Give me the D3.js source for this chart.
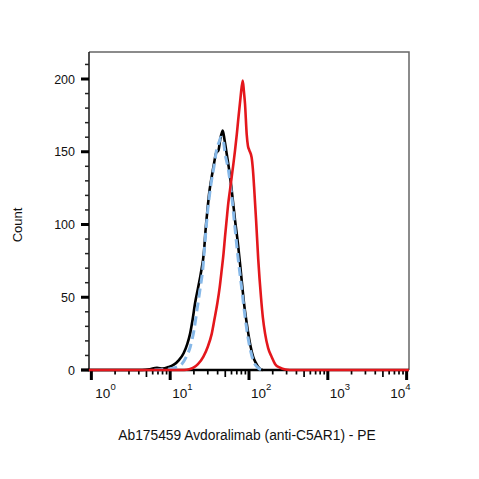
<!DOCTYPE html>
<html>
<head>
<meta charset="utf-8">
<script src="https://cdn.jsdelivr.net/npm/d3@7"></script>
<style>
  body { margin: 0; background: #fff; }
  text { font-family: "Liberation Sans", Arial, sans-serif; fill: #111; }
</style>
</head>
<body>
<svg width="479" height="479"></svg>
<script>
// fluorescence (PE) intensity values and event counts
let black_x = [0.9, 4.4, 5.5, 6.8, 8, 9.5, 11, 13, 14.8, 16.5, 17.9, 19.3, 20.7, 22.5, 24.4, 26.9, 28, 29.7, 31.5, 33.7, 36, 38.2, 41, 43, 46.4, 49, 52, 57.5, 62, 66.5, 72, 77, 82, 86.4, 92, 98, 105, 113, 122, 131, 140, 150];
let black_y = [0, 0, 0.5, 1.5, 1, 2, 3.5, 7, 11.5, 18, 25, 35, 46, 56, 66, 82, 95, 110, 123, 133, 142, 149, 151, 158, 164.5, 158, 149, 133, 118, 103, 88, 73, 58, 46, 35, 25, 16, 9, 5, 2, 0.5, 0];

let blue_x = [6.3, 8.5, 10, 12, 14, 16, 18, 20, 22, 24, 26, 28, 30, 33, 36, 39, 42, 44, 47, 50, 55, 60, 66, 72, 80, 88, 96, 105, 115, 130, 145];
let blue_y = [0, 0.4, 0.8, 2, 4, 9, 16, 27, 42, 56, 70, 92, 110, 128, 140, 152, 157, 160, 158, 148, 137, 121, 99, 79, 58, 39, 24, 13, 5.5, 1.5, 0];

let red_x = [0.93, 15, 17.5, 19.7, 22.5, 26.4, 30, 33.7, 36.5, 39.7, 42.5, 45.1, 47.5, 49.7, 52, 54.7, 57.5, 60.4, 63.5, 66.5, 70, 73, 78, 83.2, 86, 89, 93.5, 97, 101, 108, 112, 116, 123, 131, 142, 150, 160, 175, 194, 215, 247, 290, 330, 10700];
let red_y = [0, 0, 0.5, 1.6, 4, 9.2, 16, 25, 35, 46, 57, 69, 80, 92, 103, 115, 124, 133, 142, 151, 162, 172, 187, 199, 192, 183, 162, 154, 151, 146, 138, 126, 103, 76, 50, 36, 25, 15, 9, 4, 1.6, 0.3, 0, 0];

let y_ticks = [0, 50, 100, 150, 200];
let decades = [0, 1, 2, 3, 4];

let margin = { left: 89, top: 52, right: 409, bottom: 370 };

let svg = d3.select("svg");

let x = d3.scaleLog()
  .domain([Math.pow(10, -0.03), Math.pow(10, 4.03)])
  .range([margin.left, margin.right]);

let y = d3.scaleLinear()
  .domain([0, 200])
  .range([margin.bottom, 79]);

// frame
svg.append("path")
  .attr("d", "M" + margin.left + "," + margin.top + "H" + margin.right + "V" + margin.bottom)
  .attr("fill", "none")
  .attr("stroke", "#666")
  .attr("stroke-width", 1.5);

svg.append("line")
  .attr("x1", margin.left).attr("x2", margin.left)
  .attr("y1", margin.top).attr("y2", margin.bottom)
  .attr("stroke", "#222")
  .attr("stroke-width", 1.6);

// y ticks
let y_minor = d3.range(0, 220, 10).filter(d => y_ticks.indexOf(d) < 0);

svg.selectAll("line.ymin")
  .data(y_minor)
  .join("line")
    .attr("x1", margin.left - 4).attr("x2", margin.left)
    .attr("y1", d => y(d)).attr("y2", d => y(d))
    .attr("stroke", "#222")
    .attr("stroke-width", 1.5);

svg.selectAll("line.ymaj")
  .data(y_ticks)
  .join("line")
    .attr("x1", margin.left - 8).attr("x2", margin.left)
    .attr("y1", d => y(d)).attr("y2", d => y(d))
    .attr("stroke", "#000")
    .attr("stroke-width", 3);

svg.selectAll("text.ylab")
  .data(y_ticks)
  .join("text")
    .attr("x", 75)
    .attr("y", d => y(d) + 4.5)
    .attr("text-anchor", "end")
    .attr("font-size", 12.5)
    .text(d => d);

// x axis
svg.append("line")
  .attr("x1", 81).attr("x2", margin.right)
  .attr("y1", margin.bottom).attr("y2", margin.bottom)
  .attr("stroke", "#000")
  .attr("stroke-width", 2.5);

let x_minor = [];
decades.slice(0, 4).forEach(e => {
  for (let k = 2; k <= 9; k++) x_minor.push(k * Math.pow(10, e));
});

svg.selectAll("line.xmin")
  .data(x_minor)
  .join("line")
    .attr("x1", d => x(d)).attr("x2", d => x(d))
    .attr("y1", margin.bottom)
    .attr("y2", (d, i) => margin.bottom + (i % 8 == 3 ? 7 : 4.5))
    .attr("stroke", "#000")
    .attr("stroke-width", 1.7);

svg.selectAll("line.xmaj")
  .data(decades)
  .join("line")
    .attr("x1", d => x(Math.pow(10, d))).attr("x2", d => x(Math.pow(10, d)))
    .attr("y1", margin.bottom).attr("y2", margin.bottom + 10)
    .attr("stroke", "#000")
    .attr("stroke-width", 3);

let xlab = svg.selectAll("text.xlab")
  .data(decades)
  .join("text")
    .attr("x", d => d == 4 ? x(Math.pow(10, d)) + 4 : x(Math.pow(10, d)) + (d == 0 ? 4 : 2))
    .attr("y", 398)
    .attr("text-anchor", d => d == 4 ? "end" : "start")
    .attr("font-size", 13.5);

xlab.append("tspan").text("10");
xlab.append("tspan")
  .attr("dy", -8)
  .attr("font-size", 9.5)
  .text(d => d);

// axis titles
svg.append("text")
  .attr("transform", "translate(22,225) rotate(-90)")
  .attr("text-anchor", "middle")
  .attr("font-size", 13)
  .text("Count");

svg.append("text")
  .attr("x", 247)
  .attr("y", 440)
  .attr("text-anchor", "middle")
  .attr("font-size", 13.8)
  .text("Ab175459 Avdoralimab (anti-C5AR1) - PE");

// histograms
let line = d3.line()
  .x(d => x(d[0]))
  .y(d => y(d[1]))
  .curve(d3.curveMonotoneX);

svg.append("path")
  .datum(d3.zip(black_x, black_y))
  .attr("d", line)
  .attr("fill", "none")
  .attr("stroke", "#000")
  .attr("stroke-width", 2.6);

svg.append("path")
  .datum(d3.zip(blue_x, blue_y))
  .attr("d", line)
  .attr("fill", "none")
  .attr("stroke", "#86b8e8")
  .attr("stroke-width", 3)
  .attr("stroke-dasharray", "9,5");

svg.append("path")
  .datum(d3.zip(red_x, red_y))
  .attr("d", line)
  .attr("fill", "none")
  .attr("stroke", "#e4171c")
  .attr("stroke-width", 2.6);
</script>
</body>
</html>
